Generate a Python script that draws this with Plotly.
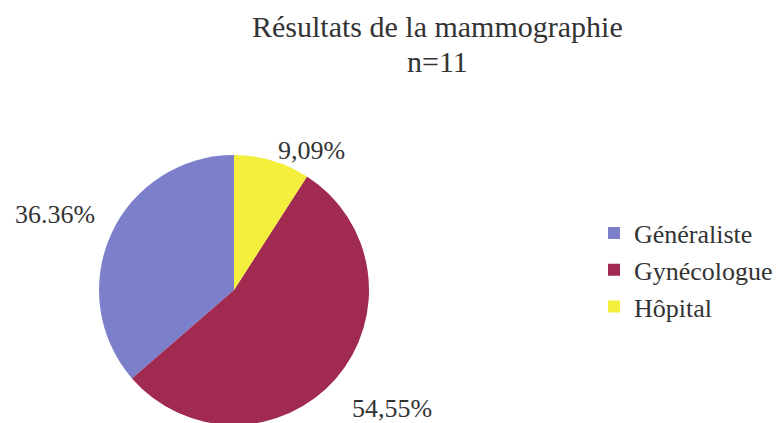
import plotly.graph_objects as go

# data
categories = ["Généraliste", "Gynécologue", "Hôpital"]
values = [36.36, 54.55, 9.09]
pct_labels = ["36.36%", "54,55%", "9,09%"]
colors = ["#7c80cb", "#a12a50", "#f3ef3c"]
title_lines = ["Résultats de la mammographie", "n=11"]

W, H = 784, 423
font = "Liberation Serif, Times New Roman, serif"

# first slice should begin at 12 o'clock and run counterclockwise
start_rot = -360 * values[0] / sum(values)

fig = go.Figure()
fig.add_trace(go.Pie(
    labels=categories,
    values=values,
    sort=False,
    direction="counterclockwise",
    rotation=start_rot,
    marker=dict(colors=colors, line=dict(width=0)),
    textinfo="none",
    hoverinfo="label+percent",
    domain=dict(x=[91 / W, 361 / W], y=[6 / H, 276 / H]),
))

# percentage labels placed outside the slices
label_pos = [(47, 206), (384, 400), (303, 142)]
for txt, (px_, py_) in zip(pct_labels, label_pos):
    fig.add_annotation(
        text=txt, x=px_ / W, y=1 - py_ / H, xref="paper", yref="paper",
        xanchor="center", yanchor="middle", showarrow=False,
        font=dict(family=font, size=26, color="#333333"),
    )

# two-line title
for txt, ty in zip(title_lines, [19, 54]):
    fig.add_annotation(
        text=txt, x=429 / W, y=1 - ty / H, xref="paper", yref="paper",
        xanchor="center", yanchor="middle", showarrow=False,
        font=dict(family=font, size=30, color="#333333"),
    )

fig.update_layout(
    width=W, height=H,
    margin=dict(l=0, r=0, t=0, b=0),
    paper_bgcolor="white",
    plot_bgcolor="white",
    legend=dict(
        x=586 / W, xanchor="left", y=1 - 262 / H, yanchor="middle",
        font=dict(family=font, size=26, color="#333333"),
        itemsizing="constant",
    ),
)

fig.write_html("out.html")
